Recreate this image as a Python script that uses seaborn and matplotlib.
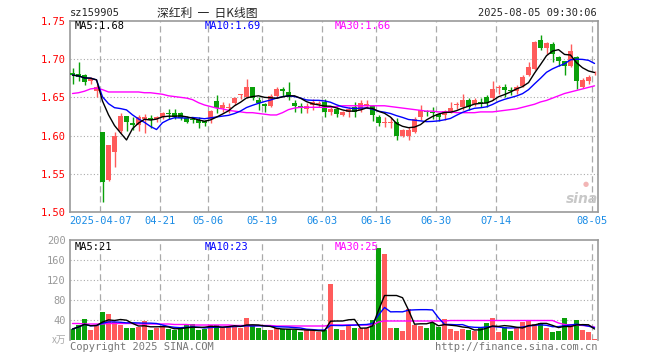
import numpy as np
import pandas as pd
import matplotlib
matplotlib.use("Agg")
import matplotlib.pyplot as plt
import seaborn as sns


# daily K line data (5 days before 04-07, then to 08-05)
opens = [1.682, 1.681, 1.679, 1.671, 1.658, 1.605, 1.542, 1.579, 1.606, 1.626,
         1.617, 1.614, 1.622, 1.623, 1.622, 1.625, 1.629, 1.630, 1.629, 1.623,
         1.622, 1.621, 1.619, 1.622, 1.645, 1.636, 1.636, 1.642, 1.653, 1.651,
         1.664, 1.647, 1.641, 1.639, 1.652, 1.661, 1.657, 1.642, 1.639, 1.635,
         1.640, 1.641, 1.644, 1.631, 1.635, 1.627, 1.631, 1.638, 1.634, 1.639,
         1.639, 1.625, 1.617, 1.617, 1.618, 1.600, 1.600, 1.605, 1.624, 1.632,
         1.631, 1.628, 1.627, 1.630, 1.640, 1.638, 1.646, 1.641, 1.644, 1.650,
         1.649, 1.662, 1.663, 1.659, 1.658, 1.665, 1.679, 1.687, 1.725, 1.714,
         1.720, 1.703, 1.697, 1.691, 1.703, 1.664, 1.671, 1.680]
highs = [1.688, 1.696, 1.681, 1.676, 1.666, 1.605, 1.588, 1.605, 1.630, 1.626,
         1.624, 1.627, 1.628, 1.627, 1.626, 1.631, 1.635, 1.635, 1.631, 1.626,
         1.625, 1.624, 1.621, 1.633, 1.653, 1.644, 1.643, 1.651, 1.655, 1.674,
         1.664, 1.651, 1.643, 1.654, 1.663, 1.663, 1.670, 1.646, 1.643, 1.642,
         1.648, 1.645, 1.648, 1.637, 1.638, 1.632, 1.638, 1.644, 1.646, 1.647,
         1.640, 1.627, 1.624, 1.624, 1.623, 1.609, 1.611, 1.624, 1.640, 1.634,
         1.637, 1.629, 1.633, 1.644, 1.644, 1.654, 1.649, 1.649, 1.649, 1.653,
         1.671, 1.666, 1.668, 1.664, 1.666, 1.679, 1.696, 1.723, 1.731, 1.722,
         1.722, 1.704, 1.698, 1.719, 1.704, 1.675, 1.679, 1.684]
lows = [1.668, 1.671, 1.666, 1.668, 1.651, 1.513, 1.541, 1.559, 1.603, 1.606,
        1.607, 1.606, 1.604, 1.610, 1.618, 1.622, 1.622, 1.622, 1.620, 1.616,
        1.616, 1.610, 1.612, 1.616, 1.630, 1.631, 1.629, 1.640, 1.648, 1.649,
        1.647, 1.633, 1.631, 1.637, 1.649, 1.652, 1.647, 1.631, 1.629, 1.630,
        1.633, 1.638, 1.625, 1.627, 1.625, 1.626, 1.625, 1.625, 1.631, 1.636,
        1.619, 1.612, 1.611, 1.610, 1.594, 1.598, 1.594, 1.603, 1.620, 1.626,
        1.622, 1.619, 1.620, 1.629, 1.635, 1.633, 1.634, 1.639, 1.638, 1.638,
        1.646, 1.655, 1.651, 1.653, 1.655, 1.663, 1.678, 1.686, 1.712, 1.707,
        1.696, 1.691, 1.679, 1.690, 1.661, 1.662, 1.668, 1.679]
closes = [1.679, 1.677, 1.670, 1.674, 1.664, 1.540, 1.588, 1.600, 1.626, 1.618,
          1.614, 1.624, 1.625, 1.621, 1.624, 1.629, 1.628, 1.625, 1.623, 1.618,
          1.620, 1.617, 1.616, 1.632, 1.636, 1.640, 1.638, 1.649, 1.655, 1.664,
          1.649, 1.643, 1.639, 1.652, 1.661, 1.658, 1.650, 1.639, 1.636, 1.639,
          1.644, 1.643, 1.631, 1.635, 1.628, 1.631, 1.635, 1.631, 1.643, 1.641,
          1.627, 1.617, 1.618, 1.618, 1.600, 1.608, 1.608, 1.622, 1.634, 1.631,
          1.630, 1.624, 1.632, 1.636, 1.641, 1.646, 1.637, 1.646, 1.641, 1.643,
          1.661, 1.663, 1.660, 1.658, 1.663, 1.676, 1.689, 1.722, 1.714, 1.721,
          1.706, 1.698, 1.691, 1.710, 1.671, 1.673, 1.677, 1.681]
ma30_price = [1.655, 1.656, 1.658, 1.661, 1.662, 1.660, 1.657, 1.657, 1.657, 1.657,
              1.657, 1.657, 1.656, 1.656, 1.655, 1.654, 1.652, 1.651, 1.650, 1.649,
              1.647, 1.643, 1.640, 1.638, 1.636, 1.635, 1.633, 1.632, 1.631, 1.630,
              1.630, 1.629, 1.628, 1.627, 1.627, 1.630, 1.634, 1.636, 1.637, 1.637,
              1.637, 1.637, 1.637, 1.637, 1.638, 1.639, 1.639, 1.639, 1.639, 1.639,
              1.639, 1.639, 1.639, 1.638, 1.637, 1.636, 1.635, 1.634, 1.633, 1.632,
              1.632, 1.631, 1.631, 1.631, 1.630, 1.630, 1.630, 1.630, 1.631, 1.631,
              1.631, 1.632, 1.633, 1.634, 1.635, 1.637, 1.639, 1.641, 1.644, 1.646,
              1.649, 1.652, 1.655, 1.657, 1.659, 1.661, 1.663, 1.665]

# volume (万手)
volume = [22, 30, 42, 20, 31, 56, 52, 36, 30, 24,
          24, 26, 38, 20, 24, 26, 22, 20, 22, 32,
          32, 20, 22, 30, 30, 26, 26, 30, 24, 44,
          28, 24, 20, 20, 24, 22, 22, 20, 16, 20,
          20, 16, 20, 112, 22, 20, 28, 24, 24, 24,
          40, 185, 172, 24, 24, 18, 62, 30, 28, 24,
          34, 26, 42, 22, 18, 22, 20, 18, 24, 34,
          44, 16, 26, 18, 24, 36, 40, 32, 34, 24,
          16, 18, 44, 32, 40, 20, 16, 2]
ma30_vol = [33, 33, 32, 32, 32, 32, 33, 33, 33, 33,
            33, 32, 32, 32, 32, 32, 32, 31, 31, 31,
            30, 30, 30, 30, 30, 30, 30, 29, 29, 29,
            29, 29, 29, 29, 28, 28, 28, 28, 28, 28,
            28, 28, 28, 30, 30, 30, 30, 30, 30, 30,
            30, 36, 38, 38, 38, 38, 38, 38, 38, 38,
            38, 38, 38, 39, 39, 39, 39, 39, 39, 39,
            39, 39, 39, 39, 39, 39, 39, 39, 39, 39,
            39, 34, 31, 30, 30, 29, 28, 26]

date_labels = ["2025-04-07", "04-21", "05-06", "05-19", "06-03",
               "06-16", "06-30", "07-14", "08-05"]
date_idx = [5, 15, 23, 32, 42, 51, 61, 71, 87]

price_ticks = [1.50, 1.55, 1.60, 1.65, 1.70, 1.75]
vol_ticks = [40, 80, 120, 160, 200]

df = pd.DataFrame({"open": opens, "high": highs, "low": lows, "close": closes,
                   "vol": volume, "ma30": ma30_price, "vma30": ma30_vol})
df["pos"] = np.arange(len(df))
df["ma5"] = df["close"].rolling(5, min_periods=1).mean()
df["ma10"] = df["close"].rolling(10, min_periods=1).mean()
df["vma5"] = df["vol"].rolling(5, min_periods=1).mean()
df["vma10"] = df["vol"].rolling(10, min_periods=1).mean()

RED = "#ff5b5b"
GREEN = "#0aa00a"
GRID = "#aaaaaa"
FRAME = "#999999"

sns.set_style("white")
plt.rcParams["font.family"] = ["DejaVu Sans Mono", "Noto Sans CJK SC"]
plt.rcParams["font.size"] = 7.5

W, H = 660, 360
fig = plt.figure(figsize=(6.6, 3.6), dpi=100)
ax = fig.add_axes([70 / W, 1 - 212.3 / H, 528 / W, 191.6 / H])
axv = fig.add_axes([70 / W, 1 - 340 / H, 528 / W, 100 / H])

up = df["close"] >= df["open"]
colors = np.where(up, RED, GREEN)
xlim = (-0.42, 87.58)
grid_x = [i - 0.42 for i in date_idx]

# price panel
for y in price_ticks[1:-1]:
    ax.axhline(y, color=GRID, lw=0.8, ls=(0, (1, 2)), zorder=0)
for gx in grid_x:
    ax.axvline(gx, color=GRID, lw=0.9, ls=(0, (5, 3)), zorder=0)

ax.vlines(df["pos"], df["low"], df["high"], colors=colors, lw=1, zorder=2)
body_low = np.minimum(df["open"], df["close"])
body_h = np.maximum((df["close"] - df["open"]).abs(), 0.0007)
ax.bar(df["pos"], body_h, bottom=body_low, width=0.78, color=colors,
       linewidth=0, zorder=3)

sns.lineplot(data=df, x="pos", y="ma30", ax=ax, color="#ff00ff", lw=1, zorder=4)
sns.lineplot(data=df, x="pos", y="ma10", ax=ax, color="#0000ff", lw=1, zorder=5)
sns.lineplot(data=df, x="pos", y="ma5", ax=ax, color="black", lw=1, zorder=6)

ax.set_xlim(*xlim)
ax.set_ylim(1.50, 1.75)
ax.set_yticks(price_ticks)
ax.set_yticklabels([f"{t:.2f}" for t in price_ticks], color="red")
ax.set_xticks(grid_x)
ax.set_xticklabels(date_labels, color="#1a8ce6")
ax.set_xlabel("")
ax.set_ylabel("")
ax.tick_params(length=0, pad=3)
for s in ax.spines.values():
    s.set_color(FRAME)
    s.set_linewidth(1.2)

# volume panel
for y in vol_ticks[:-1]:
    axv.axhline(y, color=GRID, lw=0.8, ls=(0, (1, 2)), zorder=0)
for gx in grid_x:
    axv.axvline(gx, color=GRID, lw=0.9, ls=(0, (5, 3)), zorder=0)

axv.bar(df["pos"], df["vol"], width=0.82, color=colors, linewidth=0, zorder=2)
sns.lineplot(data=df, x="pos", y="vma30", ax=axv, color="#ff00ff", lw=1, zorder=4)
sns.lineplot(data=df, x="pos", y="vma10", ax=axv, color="#0000ff", lw=1, zorder=5)
sns.lineplot(data=df, x="pos", y="vma5", ax=axv, color="black", lw=1, zorder=6)

axv.set_xlim(*xlim)
axv.set_ylim(0, 200)
axv.set_yticks(vol_ticks)
axv.set_yticklabels([str(t) for t in vol_ticks], color="#999999")
axv.set_xticks([])
axv.set_xlabel("")
axv.set_ylabel("")
axv.tick_params(length=0, pad=3)
for s in axv.spines.values():
    s.set_color(FRAME)
    s.set_linewidth(1.2)
axv.spines["bottom"].set_visible(False)


def ftext(x, y, s, **kw):
    fig.text(x / W, 1 - y / H, s, **kw)


# header
ftext(70, 13, "sz159905", va="center", ha="left", fontsize=7.5)
ftext(207, 13, "深红利  一  日K线图", va="center", ha="center", fontsize=8.5,
      family=["Noto Sans CJK SC", "DejaVu Sans"])
ftext(597, 13, "2025-08-05 09:30:06", va="center", ha="right", fontsize=7.5)

# MA legends
ftext(75, 26, "MA5:1.68", va="center", color="black")
ftext(205, 26, "MA10:1.69", va="center", color="#0000ff")
ftext(335, 26, "MA30:1.66", va="center", color="#ff00ff")
ftext(75, 246.5, "MA5:21", va="center", color="black")
ftext(205, 246.5, "MA10:23", va="center", color="#0000ff")
ftext(335, 246.5, "MA30:25", va="center", color="#ff00ff")

# footer
ftext(66, 340, "x万", va="center", ha="right", color="#aaaaaa", fontsize=7,
      family=["Noto Sans CJK SC", "DejaVu Sans"])
ftext(70, 347, "Copyright 2025 SINA.COM", va="center", ha="left", color="#777777")
ftext(597, 347, "http://finance.sina.com.cn", va="center", ha="right", color="#777777")

# sina watermark
ftext(582, 199, "sina", va="center", ha="center", color="#c8c8c8", fontsize=10,
      fontweight="bold", fontstyle="italic", family="DejaVu Sans")
ftext(586, 184, "●", va="center", ha="center", color="#f2b5b5", fontsize=5,
      family="DejaVu Sans")

fig.savefig("out.png", dpi=100)
plt.close()
